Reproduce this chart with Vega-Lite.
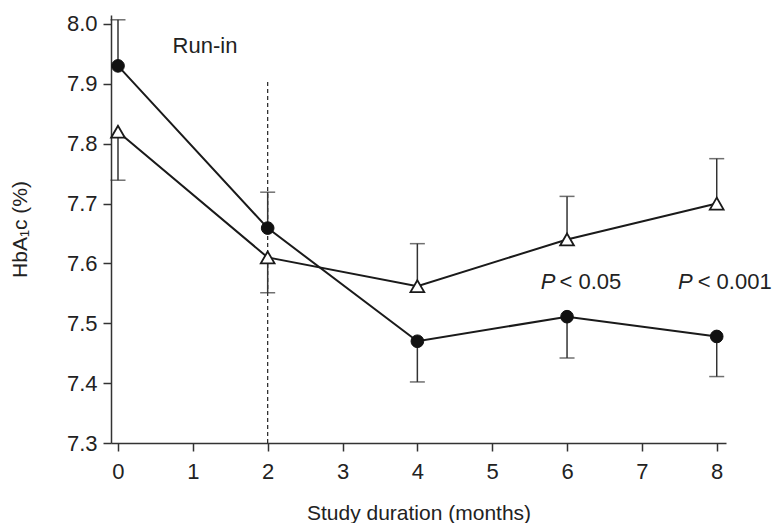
{
  "$schema": "https://vega.github.io/schema/vega-lite/v6.json",
  "width": 615,
  "height": 428,
  "autosize": "none",
  "padding": {"left": 111, "top": 15, "right": 53, "bottom": 80},
  "background": "white",
  "config": {
    "view": {"stroke": null},
    "font": "Liberation Sans",
    "axis": {
      "grid": false,
      "labelFont": "Liberation Sans",
      "titleFont": "Liberation Sans",
      "labelFontSize": 22,
      "titleFontSize": 21,
      "titleFontWeight": "normal",
      "labelColor": "#222",
      "titleColor": "#222",
      "domainColor": "#333",
      "domainWidth": 1.5,
      "tickColor": "#333",
      "tickWidth": 1.5,
      "tickSize": 8
    }
  },
  "datasets": {
    "means": [
      {"month": 0, "group": "circle", "hba1c": 7.93, "bar": 8.007},
      {"month": 2, "group": "circle", "hba1c": 7.659, "bar": 7.719},
      {"month": 4, "group": "circle", "hba1c": 7.47, "bar": 7.402},
      {"month": 6, "group": "circle", "hba1c": 7.511, "bar": 7.442},
      {"month": 8, "group": "circle", "hba1c": 7.478, "bar": 7.411},
      {"month": 0, "group": "triangle", "hba1c": 7.82, "bar": 7.739},
      {"month": 2, "group": "triangle", "hba1c": 7.61, "bar": 7.551},
      {"month": 4, "group": "triangle", "hba1c": 7.562, "bar": 7.633},
      {"month": 6, "group": "triangle", "hba1c": 7.64, "bar": 7.712},
      {"month": 8, "group": "triangle", "hba1c": 7.7, "bar": 7.775}
    ],
    "runin": [{"month": 2, "y0": 7.3, "y1": 7.904}],
    "title": [{"x": 1.162, "y": 7.963, "text": "Run-in"}],
    "pitalic": [
      {"x": 5.648, "y": 7.569, "text": "P"},
      {"x": 7.483, "y": 7.569, "text": "P"}
    ],
    "pvalue": [
      {"x": 5.9, "y": 7.569, "text": "< 0.05"},
      {"x": 7.745, "y": 7.569, "text": "< 0.001"}
    ]
  },
  "layer": [
    {
      "data": {"name": "runin"},
      "mark": {"type": "rule", "strokeDash": [4, 3], "strokeWidth": 1.2, "color": "#222"},
      "encoding": {
        "x": {"field": "month", "type": "quantitative",
              "scale": {"domain": [-0.0935, 8.124], "nice": false, "zero": false},
              "axis": {"values": [0,1,2,3,4,5,6,7,8], "format": "d", "title": "Study duration (months)", "labelPadding": 10, "titlePadding": 20}},
        "y": {"field": "y0", "type": "quantitative",
              "scale": {"domain": [7.3, 8.015], "nice": false, "zero": false},
              "axis": {"values": [7.3,7.4,7.5,7.6,7.7,7.8,7.9,8.0], "format": ".1f", "title": "HbA₁c (%)", "labelPadding": 6, "titlePadding": 36}},
        "y2": {"field": "y1"}
      }
    },
    {
      "data": {"name": "means"},
      "mark": {"type": "rule", "strokeWidth": 1.5, "color": "#333"},
      "encoding": {
        "x": {"field": "month", "type": "quantitative"},
        "y": {"field": "hba1c", "type": "quantitative"},
        "y2": {"field": "bar"}
      }
    },
    {
      "data": {"name": "means"},
      "mark": {"type": "tick", "orient": "horizontal", "size": 15, "thickness": 1.5, "color": "#333"},
      "encoding": {
        "x": {"field": "month", "type": "quantitative"},
        "y": {"field": "bar", "type": "quantitative"}
      }
    },
    {
      "data": {"name": "means"},
      "mark": {"type": "line", "strokeWidth": 2, "color": "#1a1a1a"},
      "encoding": {
        "x": {"field": "month", "type": "quantitative"},
        "y": {"field": "hba1c", "type": "quantitative"},
        "detail": {"field": "group"}
      }
    },
    {
      "data": {"name": "means"},
      "transform": [{"filter": "datum.group === 'triangle'"}],
      "mark": {"type": "point", "shape": "triangle-up", "size": 190, "filled": true, "fill": "white", "stroke": "#1a1a1a", "strokeWidth": 1.8, "opacity": 1},
      "encoding": {
        "x": {"field": "month", "type": "quantitative"},
        "y": {"field": "hba1c", "type": "quantitative"}
      }
    },
    {
      "data": {"name": "means"},
      "transform": [{"filter": "datum.group === 'circle'"}],
      "mark": {"type": "point", "shape": "circle", "size": 160, "filled": true, "fill": "#111", "stroke": "#111", "strokeWidth": 1, "opacity": 1},
      "encoding": {
        "x": {"field": "month", "type": "quantitative"},
        "y": {"field": "hba1c", "type": "quantitative"}
      }
    },
    {
      "data": {"name": "title"},
      "mark": {"type": "text", "fontSize": 22, "font": "Liberation Sans", "color": "#222", "baseline": "middle", "align": "center"},
      "encoding": {
        "x": {"field": "x", "type": "quantitative"},
        "y": {"field": "y", "type": "quantitative"},
        "text": {"field": "text"}
      }
    },
    {
      "data": {"name": "pitalic"},
      "mark": {"type": "text", "fontSize": 22, "font": "Liberation Sans", "fontStyle": "italic", "color": "#222", "baseline": "middle", "align": "left"},
      "encoding": {
        "x": {"field": "x", "type": "quantitative"},
        "y": {"field": "y", "type": "quantitative"},
        "text": {"field": "text"}
      }
    },
    {
      "data": {"name": "pvalue"},
      "mark": {"type": "text", "fontSize": 22, "font": "Liberation Sans", "color": "#222", "baseline": "middle", "align": "left"},
      "encoding": {
        "x": {"field": "x", "type": "quantitative"},
        "y": {"field": "y", "type": "quantitative"},
        "text": {"field": "text"}
      }
    }
  ]
}
